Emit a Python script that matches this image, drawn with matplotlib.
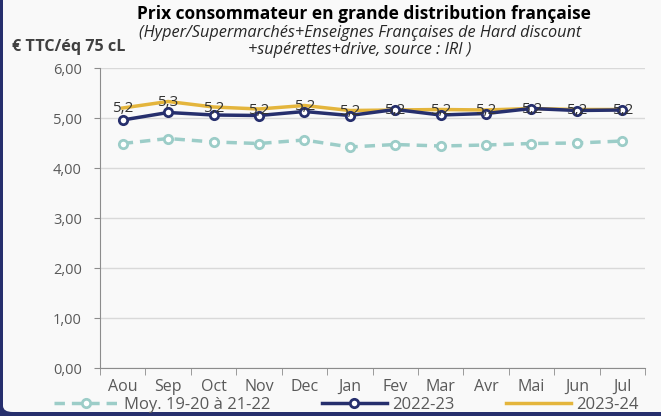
import matplotlib
matplotlib.use("Agg")
import matplotlib.pyplot as plt
from matplotlib.patches import FancyBboxPatch
import numpy as np

months = ['Aou', 'Sep', 'Oct', 'Nov', 'Dec', 'Jan', 'Fev', 'Mar', 'Avr', 'Mai', 'Jun', 'Jul']
moy_19_22 = [4.49, 4.59, 4.52, 4.49, 4.56, 4.42, 4.47, 4.44, 4.46, 4.49, 4.50, 4.54]
s2022_23 = [4.96, 5.11, 5.06, 5.05, 5.13, 5.05, 5.17, 5.06, 5.09, 5.19, 5.15, 5.16]
s2023_24 = [5.20, 5.33, 5.22, 5.18, 5.25, 5.15, 5.16, 5.17, 5.16, 5.19, 5.17, 5.17]
yticks = [0, 1, 2, 3, 4, 5, 6]

navy = '#262f6d'
yellow = '#e4b53c'
teal = '#9ccdc8'
grey_txt = '#595959'
bg = '#f9f9f9'

plt.rcParams['font.family'] = ['Open Sans', 'DejaVu Sans']

W, H = 661, 416
fig = plt.figure(figsize=(W / 100, H / 100), dpi=100, facecolor=navy)
# panel background with rounded corner
panel = FancyBboxPatch((3 / W, 4 / H), 1.2, 1.2, boxstyle='round,pad=0,rounding_size=0.015',
                       transform=fig.transFigure, facecolor=bg, edgecolor='none', zorder=-5)
fig.patches.append(panel)

ax = fig.add_axes([100 / W, 1 - 368 / H, 545 / W, 300 / H])
ax.set_zorder(2)
ax.set_facecolor(bg)
x = np.arange(len(months))

ax.plot(x, moy_19_22, color=teal, lw=2.5, ls=(0, (3, 2)), marker='o', ms=6,
        mfc='white', mec=teal, mew=2, label='Moy. 19-20 à 21-22', zorder=3)
ax.plot(x, s2022_23, color=navy, lw=2.5, marker='o', ms=6,
        mfc='white', mec=navy, mew=2, label='2022-23', zorder=4)
ax.plot(x, s2023_24, color=yellow, lw=2.5, label='2023-24', zorder=3)

for xi, v in zip(x, s2023_24):
    ax.text(xi, v - 0.02, f'{v:.1f}'.replace('.', ','), ha='center', va='center',
            fontsize=11, color='#333333', zorder=5)

ax.set_xlim(-0.5, len(months) - 0.5)
ax.set_ylim(0, 6)
ax.set_yticks(yticks)
ax.set_yticklabels([f'{t:.2f}'.replace('.', ',') for t in yticks])
ax.set_xticks(x)
ax.set_xticklabels(months)
ax.set_xticks(np.arange(-0.5, len(months)), minor=True)
ax.tick_params(axis='x', which='major', length=0, pad=8, labelsize=11.5, colors=grey_txt)
ax.tick_params(axis='x', which='minor', length=5, color='#8c8c8c', direction='out')
ax.tick_params(axis='y', length=4, color='#8c8c8c', labelsize=10.5, colors=grey_txt, pad=9)
ax.grid(axis='y', color='#d9d9d9', lw=1)
ax.set_axisbelow(True)
for s in ['top', 'right']:
    ax.spines[s].set_visible(False)
ax.spines['left'].set_color('#8c8c8c')
ax.spines['bottom'].set_color('#8c8c8c')

fig.text(364 / W, 1 - 14 / H, 'Prix consommateur en grande distribution française',
         ha='center', va='center', fontsize=12.5, fontweight='bold', color='black')
fig.text(360 / W, 1 - 33 / H, '(Hyper/Supermarchés+Enseignes Françaises de Hard discount',
         ha='center', va='center', fontsize=11.7, style='italic', color='#262626')
fig.text(360 / W, 1 - 50 / H, '+supérettes+drive, source : IRI )',
         ha='center', va='center', fontsize=11.7, style='italic', color='#262626')
fig.text(12 / W, 1 - 47 / H, '€ TTC/éq 75 cL', ha='left', va='center',
         fontsize=11.6, fontweight='bold', color='#404040')

leg = fig.legend(loc='center', bbox_to_anchor=(346 / W, 1 - 405 / H), ncol=3, frameon=False,
                 fontsize=12, handlelength=3.9, columnspacing=3.1, handletextpad=0.3,
                 labelcolor=grey_txt, borderpad=0)

fig.savefig('out.png', dpi=100, facecolor=fig.get_facecolor())
